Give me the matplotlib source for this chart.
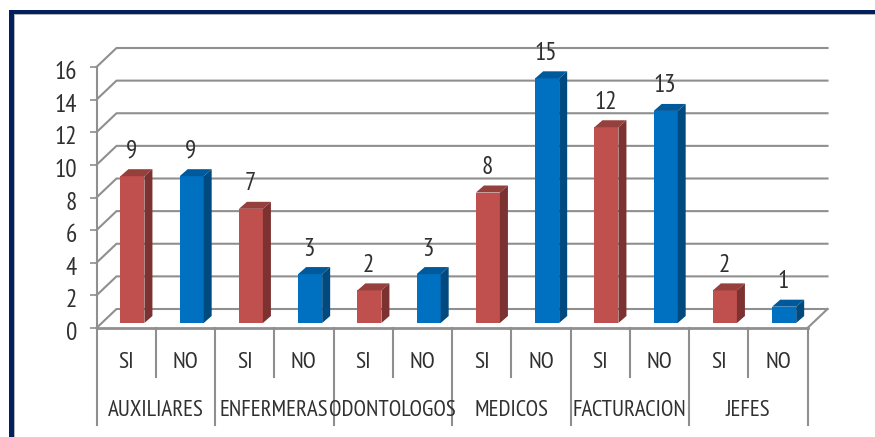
import matplotlib
matplotlib.use('Agg')
import matplotlib.pyplot as plt
from matplotlib.patches import Polygon, Rectangle
from matplotlib.transforms import ScaledTranslation

# values
groups = ['AUXILIARES', 'ENFERMERAS', 'ODONTOLOGOS', 'MEDICOS', 'FACTURACION', 'JEFES']
answers = ['SI', 'NO']
si_values = [9, 7, 2, 8, 12, 2]
no_values = [9, 3, 3, 15, 13, 1]
y_ticks = [0, 2, 4, 6, 8, 10, 12, 14, 16]

W, H = 875, 437
plt.rcParams['font.family'] = ['PT Sans Narrow', 'Liberation Sans', 'DejaVu Sans']

fig = plt.figure(figsize=(W / 100, H / 100), dpi=100, facecolor='white')
ax = fig.add_axes([96.5 / W, 1 - 328 / H, 711 / W, 261 / H])
ax.set_xlim(0, 12)
ax.set_ylim(0, 16)
for s in ax.spines.values():
    s.set_visible(False)
ax.patch.set_visible(False)

# pixel sizes turned into data units
px_x = 12 / 711
px_y = 16 / 261
dx, dy = 20 * px_x, 19 * px_y
GRID = '#8f8f8f'
TEXT = '#303030'

# frame of the picture
fig.add_artist(Rectangle((9 / W, 0), 5 / W, 1 - 10 / H, color='#00205f', lw=0))
fig.add_artist(Rectangle((9 / W, 1 - 14 / H), 1 - 9 / W, 4 / H, color='#00205f', lw=0))
fig.add_artist(Rectangle((14 / W, 0), 1.2 / W, 1 - 14 / H, color='#b5b5b5', lw=0))
fig.add_artist(Rectangle((14 / W, 1 - 15.2 / H), 1 - 14 / W, 1.2 / H, color='#b5b5b5', lw=0))

# back wall lines and the slanted bits on the left
for v in y_ticks:
    ax.plot([0, dx, 12 + dx], [v, v + dy, v + dy], color=GRID, lw=1.5, zorder=1, clip_on=False)
ax.plot([12, 12 + dx], [0, dy], color=GRID, lw=1.5, zorder=1, clip_on=False)
ax.plot([0, 12], [0, 0], color=GRID, lw=2, zorder=2, clip_on=False)
ax.plot([0, 0], [0, 16], color=GRID, lw=1.5, zorder=2, clip_on=False)

ax.set_xticks([])
ax.set_yticks(y_ticks)
ax.tick_params(axis='y', length=5, width=1.2, color=GRID, pad=9, labelsize=18, labelcolor=TEXT)
# tick numbers sit a little below their ticks in the original
nudge = ScaledTranslation(0, -3 / 100, fig.dpi_scale_trans)
for lab in ax.get_yticklabels():
    lab.set_transform(lab.get_transform() + nudge)

# 3d looking bars
bar_w = 24 * px_x
shift = 6.3 * px_x
base = 5 * px_y
ox, oy = 8 * px_x, 7 * px_y
styles = [('#c0504d', '#95403d', '#7b3230'), ('#0070c0', '#00599a', '#004a80')]
for i in range(len(groups)):
    for j, vals in enumerate([si_values, no_values]):
        v = vals[i]
        x0 = 2 * i + j + 0.5 + shift - bar_w / 2
        x1 = x0 + bar_w
        front, top, side = styles[j]
        ax.bar(x0, v, width=bar_w, bottom=base, align='edge', color=front, lw=0, zorder=3)
        t = base + v
        ax.add_patch(Polygon([(x0, t), (x0 + ox, t + oy), (x1 + ox, t + oy), (x1, t)],
                             color=top, lw=0, zorder=3, clip_on=False))
        ax.add_patch(Polygon([(x1, base), (x1 + ox, base + oy), (x1 + ox, t + oy), (x1, t)],
                             color=side, lw=0, zorder=3, clip_on=False))
        ax.text((x0 + x1) / 2 - 1 * px_x, t + 25 * px_y, str(v), ha='center', va='center',
                fontsize=18, color=TEXT, zorder=5, clip_on=False)

# two level category axis below the floor
low1 = -49 * px_y
low2 = -97 * px_y
for k in range(13):
    ax.plot([k, k], [0, low2 if k % 2 == 0 else low1], color=GRID, lw=1.5, zorder=2, clip_on=False)
for k in range(12):
    ax.text(k + 0.5, -35 * px_y, answers[k % 2], ha='center', va='center', fontsize=17, color=TEXT)
for i, g in enumerate(groups):
    ax.text(2 * i + 1, -83 * px_y, g, ha='center', va='center', fontsize=16.5, color=TEXT)

fig.savefig('out.png', dpi=100)
